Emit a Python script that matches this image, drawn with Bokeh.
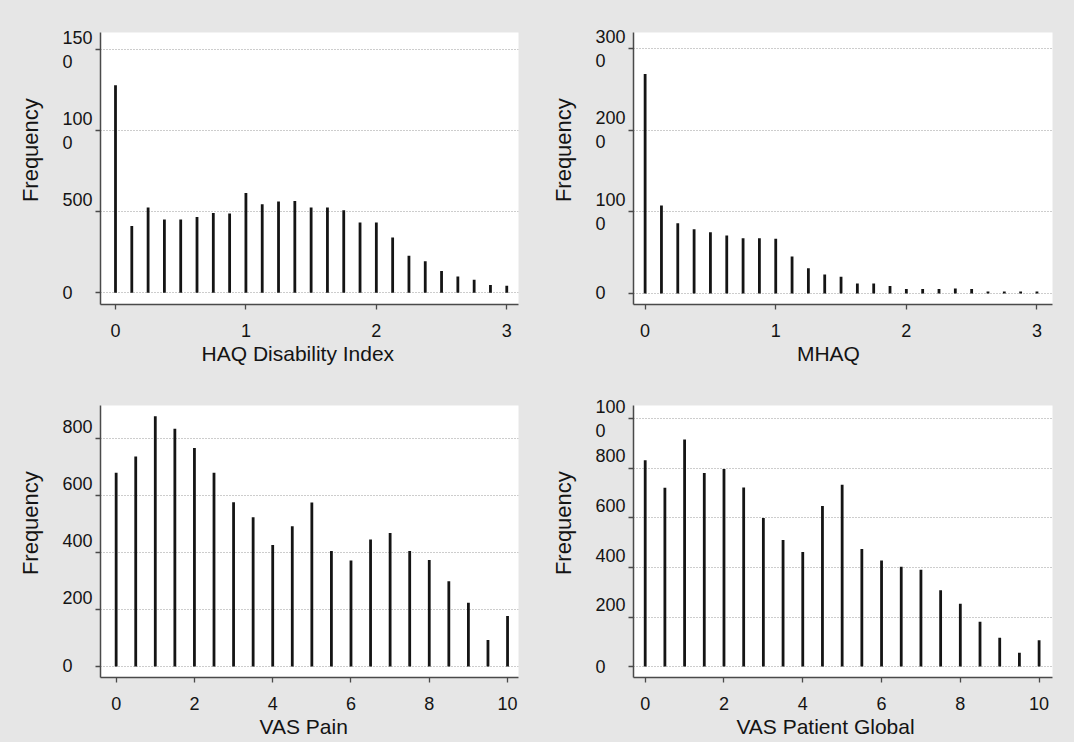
from bokeh.plotting import figure
from bokeh.layouts import column, row
from bokeh.models import FixedTicker
from bokeh.embed import file_html
from bokeh.resources import INLINE

# Score levels and frequencies for each instrument
haq_scores = [i / 8 for i in range(25)]
haq_freq = [1280, 412, 526, 452, 452, 468, 492, 490, 616, 546, 564, 566, 526,
            526, 510, 434, 434, 341, 229, 195, 135, 100, 80, 48, 44]

mhaq_scores = [i / 8 for i in range(25)]
mhaq_freq = [2692, 1080, 860, 788, 752, 712, 676, 676, 672, 452, 308, 232, 204,
             124, 124, 92, 56, 56, 56, 60, 56, 24, 24, 24, 24]

vas_pain_scores = [i / 2 for i in range(21)]
vas_pain_freq = [681, 738, 879, 835, 768, 681, 577, 524, 427, 493, 576, 406,
                 372, 446, 469, 406, 374, 299, 224, 93, 177]

vas_global_scores = [i / 2 for i in range(21)]
vas_global_freq = [833, 722, 917, 782, 798, 723, 600, 511, 463, 648, 734, 475,
                   428, 403, 391, 308, 254, 181, 116, 56, 106]

# Axis ticks and labels
haq_xticks = [0, 1, 2, 3]
vas_xticks = [0, 2, 4, 6, 8, 10]
haq_yticks = [0, 500, 1000, 1500]
mhaq_yticks = [0, 1000, 2000, 3000]
pain_yticks = [0, 200, 400, 600, 800]
global_yticks = [0, 200, 400, 600, 800, 1000]

NB = "\u00a0"
FONT = "Liberation Sans"
BG = "#e6e6e6"
INK = "#141414"


def ylabel_text(v):
    """Left-flushed tick labels; four-digit values wrap after three digits."""
    s = str(v)
    if len(s) == 4:
        return s[:3] + "\n" + s[3] + NB * 4
    if len(s) == 1:
        return s + NB * 4
    return s + "\n" + NB


def panel(xs, ys, title, title_pad, xr, yr, xticks, yticks, borders,
          w=537, h=371):
    left, right, top, bottom = borders
    p = figure(width=w, height=h, x_range=xr, y_range=yr,
               output_backend="svg", toolbar_location=None,
               min_border_left=left, min_border_right=right,
               min_border_top=top, min_border_bottom=bottom)
    p.background_fill_color = "white"
    p.border_fill_color = BG
    p.outline_line_color = None

    p.xgrid.visible = False
    p.ygrid.ticker = FixedTicker(ticks=yticks)
    p.ygrid.grid_line_color = "#9a9a9a"
    p.ygrid.grid_line_dash = "1 2"
    p.ygrid.grid_line_width = 1

    p.segment(x0=xs, y0=[0] * len(xs), x1=xs, y1=ys,
              line_color=INK, line_width=2.8)

    for ax in (p.xaxis[0], p.yaxis[0]):
        ax.axis_line_color = "#4a4a4a"
        ax.axis_line_width = 1.5
        ax.major_tick_line_color = "#4a4a4a"
        ax.major_tick_line_width = 1.3
        ax.major_tick_in = 0
        ax.major_tick_out = 5
        ax.minor_tick_line_color = None
        ax.major_label_text_font = FONT
        ax.major_label_text_font_size = "18px"
        ax.major_label_text_color = INK
        ax.axis_label_text_font = FONT
        ax.axis_label_text_font_style = "normal"
        ax.axis_label_text_color = INK

    p.xaxis.ticker = FixedTicker(ticks=xticks)
    p.xaxis.major_label_standoff = 14
    p.xaxis.axis_label = title + NB * title_pad
    p.xaxis.axis_label_text_font_size = "21px"
    p.xaxis.axis_label_standoff = 2

    p.yaxis.ticker = FixedTicker(ticks=yticks)
    p.yaxis.major_label_overrides = {t: ylabel_text(t) for t in yticks}
    p.yaxis.major_label_standoff = 3
    p.yaxis.axis_label = NB * 6 + "Frequency"
    p.yaxis.axis_label_text_font_size = "22px"
    p.yaxis.axis_label_standoff = 16
    return p


p1 = panel(haq_scores, haq_freq, "HAQ Disability Index", 4, (-0.115, 3.09),
           (-72, 1606), haq_xticks, haq_yticks, (100, 19, 32, 65))
p2 = panel(mhaq_scores, mhaq_freq, "MHAQ", 5, (-0.089, 3.119),
           (-135, 3200), haq_xticks, mhaq_yticks, (96, 22, 32, 67))
p3 = panel(vas_pain_scores, vas_pain_freq, "VAS Pain", 2, (-0.4, 10.28),
           (-39, 917), vas_xticks, pain_yticks, (100, 19, 34, 65))
p4 = panel(vas_global_scores, vas_global_freq, "VAS Patient Global", 6,
           (-0.297, 10.34), (-44, 1054), vas_xticks, global_yticks,
           (96, 22, 32, 65))

bg = {"background-color": BG}
layout = column(row(p1, p2, styles=bg), row(p3, p4, styles=bg), styles=bg)

open("out.html", "w").write(file_html(layout, INLINE))
